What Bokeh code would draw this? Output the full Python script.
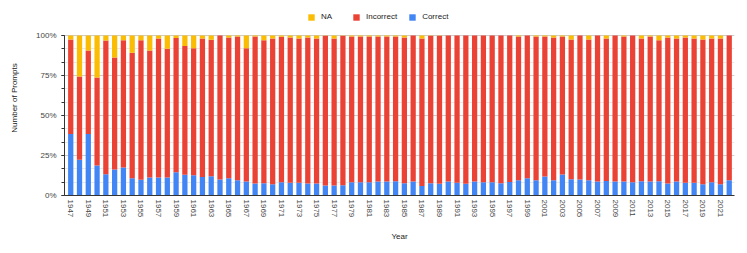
from bokeh.plotting import figure
from bokeh.models import (ColumnDataSource, FixedTicker, NumeralTickFormatter,
                          Range1d, Legend, LegendItem)
from bokeh.embed import file_html
from bokeh.resources import INLINE

years = list(range(1947, 2023))

correct = [38.5, 22.3, 38.5, 18.7, 13.3, 16.2, 17.5, 10.8, 9.8, 11.2,
           11.2, 11.2, 14.6, 12.9, 12.7, 11.6, 12.1, 10.0, 10.8, 9.6,
           8.7, 7.5, 7.7, 7.1, 8.3, 7.9, 7.9, 7.5, 7.5, 6.2,
           6.2, 6.4, 8.3, 8.3, 8.3, 8.7, 8.7, 8.9, 7.7, 8.7,
           6.0, 7.7, 7.3, 8.7, 7.9, 7.3, 8.7, 8.3, 8.3, 7.7,
           8.5, 9.6, 10.8, 9.6, 11.9, 9.6, 13.1, 10.2, 10.0, 9.6,
           8.7, 9.1, 8.7, 8.7, 8.3, 8.9, 8.7, 8.9, 7.5, 8.7,
           7.9, 7.9, 7.1, 8.3, 7.1, 9.6]

incorrect = [59.0, 52.1, 52.1, 55.0, 83.6, 70.0, 79.6, 78.4, 87.3, 79.4,
             86.9, 80.5, 83.9, 80.6, 79.4, 86.5, 85.2, 90.0, 88.0, 89.8,
             83.4, 91.9, 89.4, 91.0, 90.9, 90.9, 90.2, 91.3, 90.6, 93.6,
             91.9, 93.4, 91.1, 91.1, 91.1, 90.7, 90.7, 90.5, 91.1, 91.3,
             92.1, 92.1, 92.5, 91.3, 92.1, 92.7, 91.3, 91.7, 91.7, 92.3,
             91.5, 89.8, 89.2, 89.8, 87.5, 89.2, 86.3, 87.3, 90.0, 87.9,
             91.3, 89.0, 91.3, 90.7, 91.7, 89.2, 90.7, 88.2, 91.3, 89.4,
             90.9, 90.2, 90.4, 89.8, 91.0, 90.4]

na = [2.5, 25.6, 9.4, 26.3, 3.1, 13.8, 2.9, 10.8, 2.9, 9.4,
      1.9, 8.3, 1.5, 6.5, 7.9, 1.9, 2.7, 0.0, 1.2, 0.6,
      7.9, 0.6, 2.9, 1.9, 0.8, 1.2, 1.9, 1.2, 1.9, 0.2,
      1.9, 0.2, 0.6, 0.6, 0.6, 0.6, 0.6, 0.6, 1.2, 0.0,
      1.9, 0.2, 0.2, 0.0, 0.0, 0.0, 0.0, 0.0, 0.0, 0.0,
      0.0, 0.6, 0.0, 0.6, 0.6, 1.2, 0.6, 2.5, 0.0, 2.5,
      0.0, 1.9, 0.0, 0.6, 0.0, 1.9, 0.6, 2.9, 1.2, 1.9,
      1.2, 1.9, 2.5, 1.9, 1.9, 0.0]

x_tick_years = list(range(1947, 2022, 2))
y_ticks = [0, 0.25, 0.5, 0.75, 1.0]
y_minor_ticks = [i / 12 for i in range(13)]

series = ["Correct", "Incorrect", "NA"]
colors = ["#4285F4", "#EA4335", "#FBBC04"]

source = ColumnDataSource(data=dict(
    year=years,
    Correct=[v / 100 for v in correct],
    Incorrect=[v / 100 for v in incorrect],
    NA=[v / 100 for v in na],
))

# frame spans the full height above the x axis; the 0-100% scale sits in its
# lower part, leaving room for the legend at the top
p = figure(width=747, height=253, output_backend="svg", toolbar_location=None,
           x_range=Range1d(1946.29, 2022.6), y_range=Range1d(0, 195 / 160),
           min_border_left=64, min_border_right=13, min_border_top=0,
           min_border_bottom=58)

renderers = p.vbar_stack(series, x="year", width=0.6, color=colors,
                         line_color=None, source=source)

legend = Legend(items=[LegendItem(label="NA", renderers=[renderers[2]]),
                       LegendItem(label="Incorrect", renderers=[renderers[1]]),
                       LegendItem(label="Correct", renderers=[renderers[0]])],
                orientation="horizontal", location=(243, 174),
                glyph_width=8, glyph_height=8, label_height=8,
                label_standoff=6, spacing=11, padding=0, margin=0,
                label_text_font="Liberation Sans", label_text_font_size="8px",
                label_text_color="#222222", border_line_color=None,
                background_fill_alpha=0)
p.add_layout(legend, "center")

p.outline_line_color = None
p.xgrid.grid_line_color = None
p.ygrid.grid_line_color = "#cccccc"
p.ygrid.minor_grid_line_color = "#e8e8e8"
p.ygrid.bounds = (0, 1)

p.yaxis.ticker = FixedTicker(ticks=y_ticks, minor_ticks=y_minor_ticks)
p.yaxis.formatter = NumeralTickFormatter(format="0%")
p.yaxis.bounds = (0, 1)
p.xaxis.ticker = FixedTicker(ticks=x_tick_years)

for ax in (p.xaxis[0], p.yaxis[0]):
    ax.axis_line_color = "#333333"
    ax.major_label_text_font = "Liberation Sans"
    ax.major_label_text_font_size = "8px"
    ax.major_label_text_color = "#444444"
    ax.axis_label_text_font = "Liberation Sans"
    ax.axis_label_text_font_size = "8px"
    ax.axis_label_text_font_style = "normal"
    ax.axis_label_text_color = "#222222"

p.xaxis.axis_label = "Year"
p.xaxis.major_label_orientation = "vertical"
p.xaxis.major_tick_line_color = None
p.xaxis.minor_tick_line_color = None
p.xaxis.major_tick_in = 0
p.xaxis.major_tick_out = 0
p.xaxis.minor_tick_in = 0
p.xaxis.minor_tick_out = 0
p.xaxis.major_label_standoff = 4
p.xaxis.axis_label_standoff = 12

p.yaxis.axis_label = "Number of Prompts"
p.yaxis.major_tick_line_color = "#333333"
p.yaxis.minor_tick_line_color = "#333333"
p.yaxis.major_tick_in = 0
p.yaxis.major_tick_out = 3
p.yaxis.minor_tick_in = 0
p.yaxis.minor_tick_out = 3
p.yaxis.major_label_standoff = 5
p.yaxis.axis_label_standoff = 14

open("out.html", "w").write(file_html(p, INLINE))
